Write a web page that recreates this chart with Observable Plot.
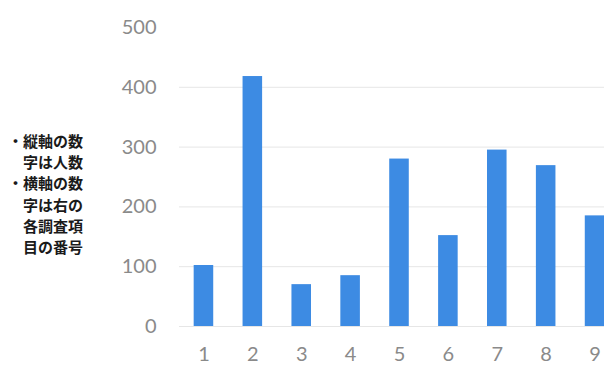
<!DOCTYPE html>
<html>
<head>
<meta charset="utf-8">
<script src="https://cdn.jsdelivr.net/npm/d3@7"></script>
<script src="https://cdn.jsdelivr.net/npm/@observablehq/plot@0.6"></script>
<style>
  html, body { margin: 0; padding: 0; background: #fff; overflow: hidden; }
  #wrap { position: relative; width: 604px; height: 369px; overflow: hidden; }
  #note {
    position: absolute; left: 8px; top: 130px;
    font-family: "Noto Sans CJK JP", sans-serif; font-weight: 700;
    font-size: 15px; line-height: 21.2px; color: #1a1a1a; white-space: nowrap;
  }
  #note .cont { padding-left: 15px; }
  #chart { position: absolute; left: 0; top: 0; width: 619px; }
  #chart svg { max-width: none !important; width: 619px; height: 369px; }
</style>
</head>
<body>
<div id="wrap">
  <div id="note">
    <div>・縦軸の数</div>
    <div class="cont">字は人数</div>
    <div>・横軸の数</div>
    <div class="cont">字は右の</div>
    <div class="cont">各調査項</div>
    <div class="cont">目の番号</div>
  </div>
  <div id="chart"></div>
</div>
<script>
// Survey item numbers and the number of people for each
const items = [1, 2, 3, 4, 5, 6, 7, 8, 9];
const counts = [102, 418, 70, 85, 280, 152, 295, 269, 185];
const yTicks = [0, 100, 200, 300, 400, 500];
const gridValues = [0, 100, 200, 300, 400];

const data = items.map((item, i) => ({item, count: counts[i]}));

const chart = Plot.plot({
  width: 619,
  height: 369,
  marginLeft: 179,
  marginRight: 0,
  marginTop: 27,
  marginBottom: 43,
  style: {fontFamily: "Lato, sans-serif", fontSize: "20px", background: "transparent"},
  x: {type: "band", domain: items, paddingInner: 0.6, paddingOuter: 0.3, round: false},
  y: {domain: [0, 500]},
  marks: [
    Plot.ruleY(gridValues, {stroke: "#e6e6e6", strokeWidth: 1}),
    Plot.barY(data, {x: "item", y: "count", fill: "#3d8be3"}),
    Plot.axisY(yTicks, {tickSize: 0, tickPadding: 23, fill: "#8a8a8a", fontSize: 20, label: null}),
    Plot.axisX(items, {tickSize: 0, tickPadding: 20, fill: "#8a8a8a", fontSize: 20, label: null})
  ]
});
document.getElementById("chart").appendChild(chart);
</script>
</body>
</html>
